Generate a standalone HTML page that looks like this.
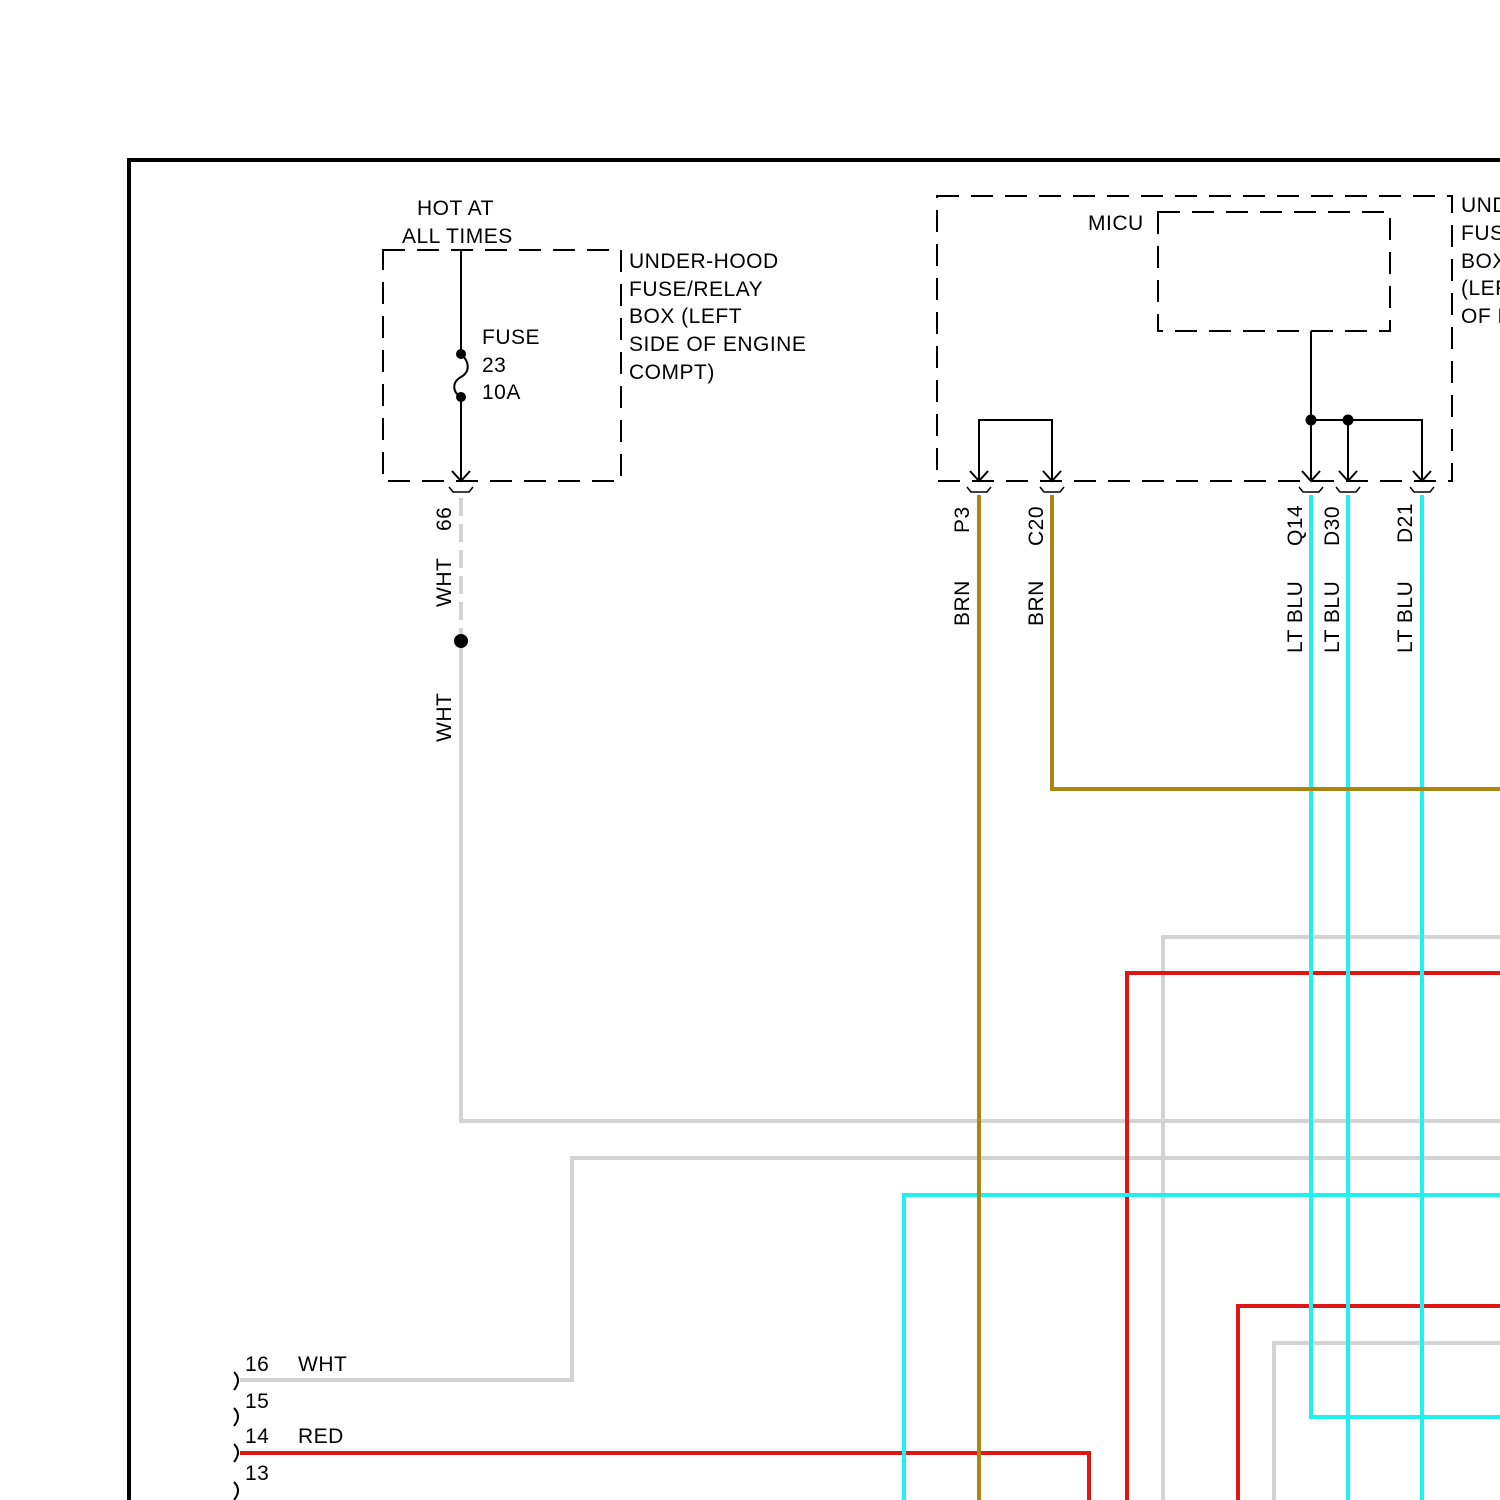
<!DOCTYPE html>
<html><head><meta charset="utf-8"><style>
html,body{margin:0;padding:0;background:#fff;width:1500px;height:1500px;overflow:hidden}
text{font-family:"Liberation Sans",sans-serif;font-size:21px;letter-spacing:0.5px;fill:#000}
</style></head><body>
<svg width="1500" height="1500" viewBox="0 0 1500 1500" xmlns="http://www.w3.org/2000/svg">
<rect width="1500" height="1500" fill="#fff"/>
<path d="M129 1500 V160 H1500" fill="none" stroke="#000" stroke-width="4"/>

<g fill="none" stroke-width="4">
<path d="M461 640 V1121 H1500" stroke="#d3d3d3"/>
<path d="M240 1380 H572 V1158 H1500" stroke="#d3d3d3"/>
<path d="M1163 1500 V937 H1500" stroke="#d3d3d3"/>
<path d="M1274 1500 V1343 H1500" stroke="#d3d3d3"/>
<path d="M1127 1500 V973 H1500" stroke="#e01515"/>
<path d="M1238 1500 V1306 H1500" stroke="#e01515"/>
<path d="M240 1453 H1089 V1500" stroke="#e01515"/>
<path d="M904 1500 V1195 H1500" stroke="#22f0f0"/>
<path d="M1311 495 V1417 H1500" stroke="#22f0f0"/>
<path d="M1348 495 V1500" stroke="#22f0f0"/>
<path d="M1422 495 V1500" stroke="#22f0f0"/>
<path d="M979 495 V1500" stroke="#a8860f"/>
<path d="M1052 495 V789 H1500" stroke="#a8860f"/>
</g>
<path d="M461 498 V640" stroke="#d3d3d3" stroke-width="4" stroke-dasharray="18 8"/>
<circle cx="461" cy="641" r="7" fill="#000"/>

<g fill="none" stroke="#000" stroke-width="2" stroke-dasharray="22 12">
<rect x="383" y="250" width="238" height="231"/>
<rect x="937" y="196" width="515" height="285"/>
<rect x="1158" y="212" width="232" height="119"/>
</g>

<g fill="none" stroke="#000" stroke-width="2">
<path d="M461 250 V354"/>
<path d="M461 354 C470 362,470 372,461 377 C452 382,452 392,461 397"/>
<path d="M461 397 V481"/>
<path d="M452 471 L461 481 L470 471"/>
<path d="M449 487 L453 492 H469 L473 487" stroke-width="1.5"/>
<path d="M979 481 V420 H1052 V481"/>
<path d="M1311 331 V481"/>
<path d="M1311 420 H1422 V481"/>
<path d="M1348 420 V481"/>
<path d="M970 471 L979 481 L988 471 M1043 471 L1052 481 L1061 471 M1302 471 L1311 481 L1320 471 M1339 471 L1348 481 L1357 471 M1413 471 L1422 481 L1431 471"/>
<path d="M967 487 L971 492 H987 L991 487 M1040 487 L1044 492 H1060 L1064 487 M1299 487 L1303 492 H1319 L1323 487 M1336 487 L1340 492 H1356 L1360 487 M1410 487 L1414 492 H1430 L1434 487" stroke-width="1.5"/>
<path d="M234 1372 Q242 1380 234 1390 M234 1408 Q242 1416 234 1426 M234 1444 Q242 1452 234 1462 M234 1482 Q242 1490 234 1500"/>
</g>
<circle cx="461" cy="354" r="5" fill="#000"/>
<circle cx="461" cy="397" r="5" fill="#000"/>
<circle cx="1311" cy="420" r="5.5" fill="#000"/>
<circle cx="1348" cy="420" r="5.5" fill="#000"/>

<text x="417" y="215">HOT AT</text>
<text x="402" y="243">ALL TIMES</text>
<text x="482" y="344">FUSE</text>
<text x="482" y="372">23</text>
<text x="482" y="399">10A</text>
<text x="629" y="268">UNDER-HOOD</text>
<text x="629" y="296">FUSE/RELAY</text>
<text x="629" y="323">BOX (LEFT</text>
<text x="629" y="351">SIDE OF ENGINE</text>
<text x="629" y="379">COMPT)</text>
<text x="1088" y="230">MICU</text>
<text x="1461" y="212">UNDER-HOOD</text>
<text x="1461" y="240">FUSE/RELAY</text>
<text x="1461" y="268">BOX</text>
<text x="1461" y="295">(LEFT SIDE</text>
<text x="1461" y="323">OF ENGINE</text>

<g>
<text transform="translate(451,531) rotate(-90)">66</text>
<text transform="translate(451,607) rotate(-90)">WHT</text>
<text transform="translate(451,742) rotate(-90)">WHT</text>
<text transform="translate(969,533) rotate(-90)">P3</text>
<text transform="translate(969,626) rotate(-90)">BRN</text>
<text transform="translate(1043,546) rotate(-90)">C20</text>
<text transform="translate(1043,626) rotate(-90)">BRN</text>
<text transform="translate(1302,546) rotate(-90)">Q14</text>
<text transform="translate(1302,653) rotate(-90)">LT BLU</text>
<text transform="translate(1339,546) rotate(-90)">D30</text>
<text transform="translate(1339,653) rotate(-90)">LT BLU</text>
<text transform="translate(1412,543) rotate(-90)">D21</text>
<text transform="translate(1412,653) rotate(-90)">LT BLU</text>
</g>
<text x="245" y="1371">16</text>
<text x="298" y="1371">WHT</text>
<text x="245" y="1408">15</text>
<text x="245" y="1443">14</text>
<text x="298" y="1443">RED</text>
<text x="245" y="1480">13</text>
</svg>
</body></html>
